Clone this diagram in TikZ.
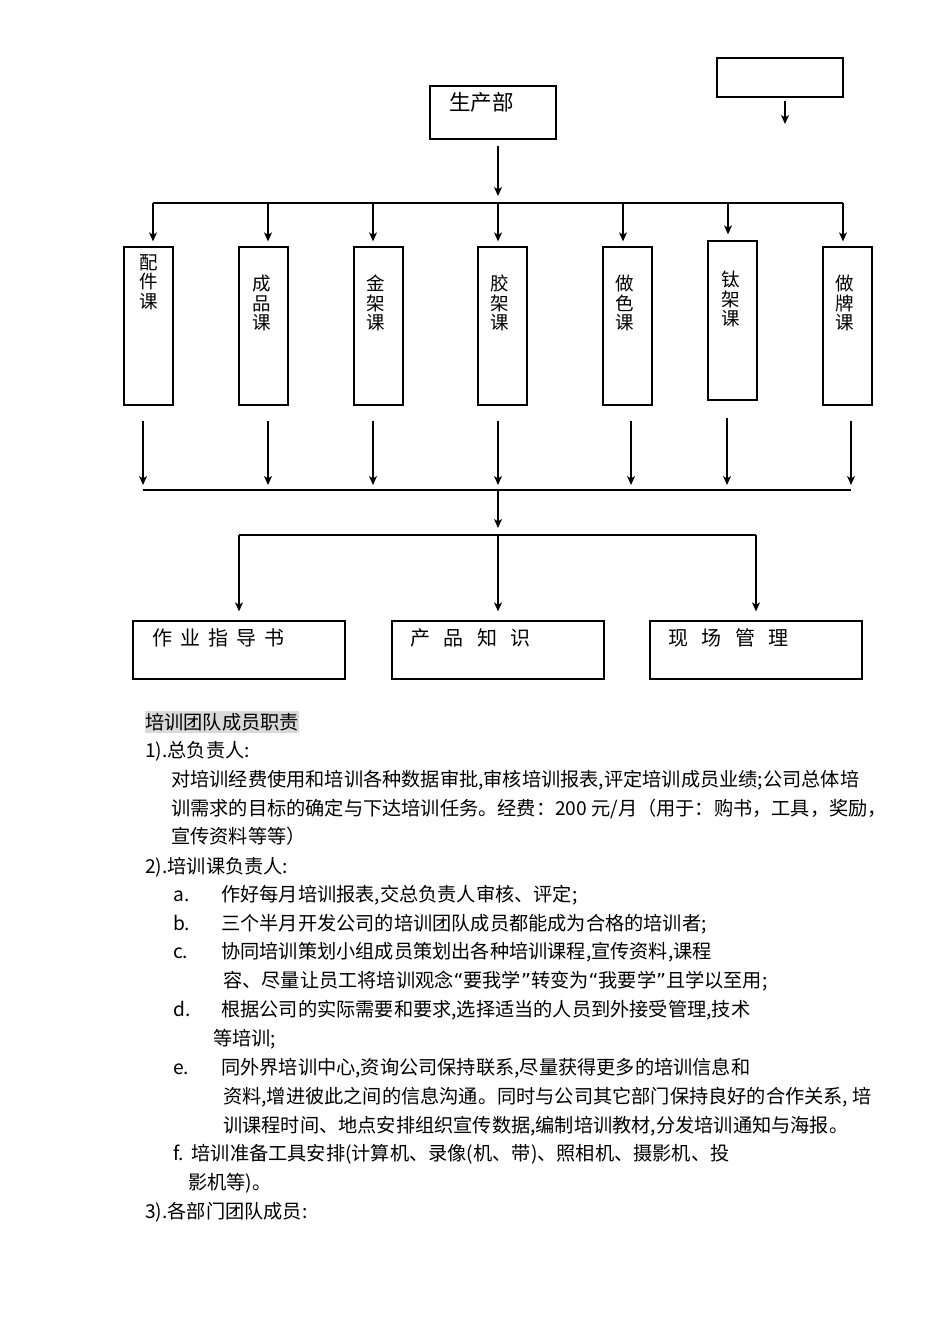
\documentclass[tikz,border=0pt]{standalone}
\usepackage{fontspec}
\setmainfont{Noto Sans CJK SC}
\newfontfamily\lat{DejaVu Sans}
\usetikzlibrary{arrows.meta}
\begin{document}
\begin{tikzpicture}[x=1pt,y=-1pt,
 box/.style={draw, line width=1.3pt, inner sep=0, minimum width=49pt, minimum height=158pt},
 wbox/.style={draw, line width=1.3pt, inner sep=0, minimum width=212pt, minimum height=58pt},
 arr/.style={line width=1.2pt, -{Stealth[length=9pt,width=8pt,inset=2.5pt]}},
 ln/.style={line width=1.2pt},
 lbl/.style={font=\fontsize{20}{22}\selectfont, inner sep=0, anchor=base west},
 vt/.style={font=\fontsize{18.5}{19.5}\selectfont, align=center, inner sep=0, anchor=north},
 txt/.style={font=\fontsize{19.2}{21}\selectfont, inner sep=0, anchor=base west},
]
\useasboundingbox (0,0) rectangle (950,1344);
% top boxes
\node[draw, line width=1.3pt, minimum width=126pt, minimum height=53pt, inner sep=0] (scb) at (493,112.5) {};
\node[lbl, font=\fontsize{21.5}{23}\selectfont] (sct) at (449,110) {生产部};
\node[draw, line width=1.3pt, minimum width=126pt, minimum height=39pt, inner sep=0] (blank) at (780,77.5) {};
\coordinate (blankend) at (785,124);
\draw[arr, shorten <=3pt] (blank.south -| blankend) -- (blankend);
% bus 1
\coordinate (b1m) at (498,203);
\coordinate (b1l) at (153,203);
\coordinate (b1r) at (843,203);
\draw[arr, shorten <=6pt, shorten >=7pt] (scb.south -| b1m) -- (b1m);
\draw[ln] (b1l) -- (b1r);
% section boxes
\node[box] (k1) at (148.5,326) {};
\node[box] (k2) at (263.5,326) {};
\node[box] (k3) at (378.5,326) {};
\node[box] (k4) at (502.5,326) {};
\node[box] (k5) at (627.5,326) {};
\node[box, minimum height=159pt] (k6) at (732.5,320.5) {};
\node[box] (k7) at (847.5,326) {};
\node[vt] (t1) at (148.5,254) {配\\件\\课};
\node[vt] (t2) at (262,275) {成\\品\\课};
\node[vt] (t3) at (376,275) {金\\架\\课};
\node[vt] (t4) at (500,275) {胶\\架\\课};
\node[vt] (t5) at (625,275) {做\\色\\课};
\node[vt] (t6) at (731,271) {钛\\架\\课};
\node[vt] (t7) at (845,275) {做\\牌\\课};
\draw[arr, shorten >=5pt] (b1l) -- (b1l |- k1.north);
\draw[arr, shorten >=5pt] (b1l -| 268,0) -- (k2.north -| 268,0);
\draw[arr, shorten >=5pt] (b1l -| 373,0) -- (k3.north -| 373,0);
\draw[arr, shorten >=5pt] (b1m) -- (k4.north -| b1m);
\draw[arr, shorten >=5pt] (b1l -| 623,0) -- (k5.north -| 623,0);
\draw[arr, shorten >=6pt] (b1l -| 728,0) -- (k6.north -| 728,0);
\draw[arr, shorten >=5pt] (b1r) -- (b1r |- k7.north);
% bus 2
\coordinate (b2l) at (143,490);
\coordinate (b2m) at (498,490);
\coordinate (b2r) at (851,490);
\draw[ln] (b2l) -- (b2r);
\draw[arr, shorten <=15pt, shorten >=5pt] (k1.south -| b2l) -- (b2l);
\draw[arr, shorten <=15pt, shorten >=5pt] (k2.south -| 268,0) -- (b2l -| 268,0);
\draw[arr, shorten <=15pt, shorten >=5pt] (k3.south -| 373,0) -- (b2l -| 373,0);
\draw[arr, shorten <=15pt, shorten >=5pt] (k4.south -| b2m) -- (b2m);
\draw[arr, shorten <=15pt, shorten >=5pt] (k5.south -| 631,0) -- (b2l -| 631,0);
\draw[arr, shorten <=17pt, shorten >=5pt] (k6.south -| 727,0) -- (b2l -| 727,0);
\draw[arr, shorten <=15pt, shorten >=5pt] (k7.south -| b2r) -- (b2r);
% bus 3
\coordinate (b3l) at (239,535);
\coordinate (b3m) at (498,535);
\coordinate (b3r) at (756,535);
\draw[arr, shorten >=7pt] (b2m) -- (b3m);
\draw[ln] (b3l) -- (b3r);
\node[wbox] (w1) at (239,650) {};
\node[wbox] (w2) at (498,650) {};
\node[wbox] (w3) at (756,650) {};
\draw[arr, shorten >=9pt] (b3l) -- (w1.north);
\draw[arr, shorten >=9pt] (b3m) -- (w2.north);
\draw[arr, shorten >=9pt] (b3r) -- (w3.north);
\node[lbl] (wt1) at (152,645) {作\hspace{8pt}业\hspace{8pt}指\hspace{8pt}导\hspace{8pt}书};
\node[lbl] (wt2) at (410,645) {产\hspace{13.5pt}品\hspace{13.5pt}知\hspace{13.5pt}识};
\node[lbl] (wt3) at (668,645) {现\hspace{13.5pt}场\hspace{13.5pt}管\hspace{13.5pt}理};
% text
\node[txt, fill=black!15, text height=18pt, text depth=4pt] (h) at (145,729) {培训团队成员职责};
\node[txt] (l1) at (145,757) {1).总负责人:};
\node[txt] (l2) at (171,786) {对培训经费使用和培训各种数据审批,审核培训报表,评定培训成员业绩;公司总体培};
\node[txt] (l3) at (171,815) {训需求的目标的确定与下达培训任务。经费：200 元/月（用于：购书，工具，奖励，};
\node[txt] (l4) at (171,843) {宣传资料等等）};
\node[txt] (l5) at (145,873) {2).培训课负责人:};
\node[txt] (la) at (173,901) {a.};
\node[txt] (la2) at (221,901) {作好每月培训报表,交总负责人审核、评定;};
\node[txt] (lb) at (173,930) {b.};
\node[txt] (lb2) at (221,930) {三个半月开发公司的培训团队成员都能成为合格的培训者;};
\node[txt] (lc) at (173,958) {c.};
\node[txt] (lc2) at (221,958) {协同培训策划小组成员策划出各种培训课程,宣传资料,课程};
\node[txt] (lc3) at (223,987) {容、尽量让员工将培训观念{\lat “}要我学{\lat ”}转变为{\lat “}我要学{\lat ”}且学以至用;};
\node[txt] (ld) at (173,1016) {d.};
\node[txt] (ld2) at (221,1016) {根据公司的实际需要和要求,选择适当的人员到外接受管理,技术};
\node[txt] (ld3) at (213,1045) {等培训;};
\node[txt] (le) at (173,1074) {e.};
\node[txt] (le2) at (221,1074) {同外界培训中心,资询公司保持联系,尽量获得更多的培训信息和};
\node[txt] (le3) at (223,1103) {资料,增进彼此之间的信息沟通。同时与公司其它部门保持良好的合作关系, 培};
\node[txt] (le4) at (223,1132) {训课程时间、地点安排组织宣传数据,编制培训教材,分发培训通知与海报。};
\node[txt] (lf) at (173,1160) {f.\hspace{8pt}培训准备工具安排(计算机、录像(机、带)、照相机、摄影机、投};
\node[txt] (lf2) at (188,1189) {影机等)。};
\node[txt] (l3h) at (145,1218) {3).各部门团队成员:};
\end{tikzpicture}
\end{document}
